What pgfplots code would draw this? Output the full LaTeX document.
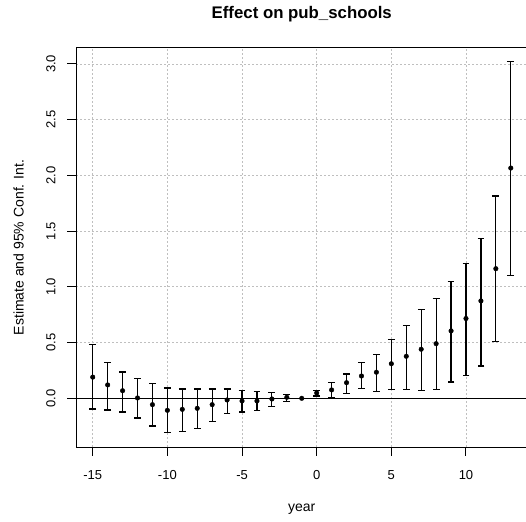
\documentclass[border=0pt]{standalone}
\usepackage{fontspec}
\setmainfont{Liberation Sans}
\usepackage{pgfplots}
\usepackage{pgfplotstable}
\pgfplotsset{compat=1.18}
\pgfplotstableread{
x    y      lo      hi
-15  0.190  -0.096  0.480
-14  0.120  -0.105  0.320
-13  0.068  -0.123  0.236
-12  0.003  -0.177  0.176
-11  -0.057 -0.249  0.135
-10  -0.108 -0.309  0.093
-9   -0.099 -0.297  0.084
-8   -0.090 -0.270  0.084
-7   -0.057 -0.207  0.084
-6   -0.015 -0.135  0.084
-5   -0.024 -0.123  0.072
-4   -0.024 -0.111  0.060
-3   -0.006 -0.072  0.054
-2   0.009  -0.030  0.032
-1   0.000  0.000   0.000
0    0.048  0.020   0.070
1    0.075  0.005   0.144
2    0.140  0.040   0.218
3    0.200  0.086   0.320
4    0.234  0.060   0.390
5    0.310  0.080   0.527
6    0.377  0.080   0.652
7    0.440  0.072   0.796
8    0.490  0.080   0.892
9    0.605  0.147   1.045
10   0.716  0.207   1.210
11   0.874  0.290   1.437
12   1.163  0.508   1.815
13   2.066  1.105   3.020
}\est
\begin{document}
\begin{tikzpicture}
\useasboundingbox (-76pt,-74pt) rectangle (450pt,447pt);
\begin{axis}[
  at={(0,0)}, anchor=south west,
  scale only axis, width=451.5pt, height=399.3pt,
  xmin=-16.12, xmax=14.12, ymin=-0.437, ymax=3.146,
  xtick={-15,-10,-5,0,5,10},
  ytick={0,0.5,1,1.5,2,2.5,3},
  /pgf/number format/assume math mode=true,
  y tick label style={/pgf/number format/fixed, /pgf/number format/fixed zerofill, /pgf/number format/precision=1},
  tick pos=left, tick align=outside, major tick length=8.5pt,
  major tick style={black, line width=1pt},
  axis line style={black, line width=0.8pt},
  grid=major,
  major grid style={draw=lightgray, line width=0.9pt, dash pattern=on 2pt off 2pt},
  xticklabel style={font=\fontsize{13}{15}\selectfont, anchor=base, yshift=-23.8pt},
  yticklabel style={font=\fontsize{13}{15}\selectfont, xshift=-12.1pt, rotate=90, anchor=base},
  title={Effect on pub\_schools},
  every axis title/.style={at={(axis description cs:0.5,1)}, anchor=base, yshift=28.7pt, font=\bfseries\fontsize{16.8}{20}\selectfont},
  xlabel={year},
  every axis x label/.style={at={(axis description cs:0.5,0)}, anchor=base, yshift=-64.7pt, font=\fontsize{14}{17}\selectfont},
  ylabel={Estimate and 95\% Conf. Int.},
  every axis y label/.style={at={([xshift=-52.3pt]axis description cs:0,0.5)}, rotate=90, anchor=base, font=\fontsize{14}{17}\selectfont},
]
\addplot[black, line width=0.9pt, forget plot] coordinates {(-16.12,0) (14.12,0)};
\addplot[black, only marks, mark=*, mark size=2.3pt,
  error bars/.cd, y dir=both, y explicit,
  error bar style={black, line width=1.2pt},
  error mark options={black, mark size=3.4pt, line width=1.2pt, rotate=90}]
  table[x=x, y=y, y error plus expr=\thisrow{hi}-\thisrow{y}, y error minus expr=\thisrow{y}-\thisrow{lo}] {\est};
\end{axis}
\end{tikzpicture}
\end{document}
